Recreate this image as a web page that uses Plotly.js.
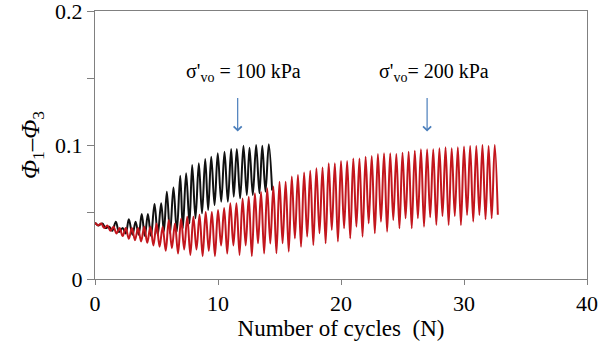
<!DOCTYPE html>
<html>
<head>
<meta charset="utf-8">
<script src="https://cdn.plot.ly/plotly-3.0.1.min.js"></script>
<style>html,body{margin:0;padding:0;background:#fff;}#chart{width:616px;height:347px;}</style>
</head>
<body>
<div id="chart"></div>
<script>
// sigma'vo = 100 kPa (black) : cycle position and Phi1-Phi3 at successive peaks/troughs
const blackX = [0, 0.3, 0.6, 0.85, 1.15, 1.4, 1.7, 1.95, 2.25, 2.5, 2.75, 3.05, 3.3, 3.55, 3.8, 4.05, 4.3, 4.55,
  4.84, 5.1, 5.38, 5.6, 5.84, 6.1, 6.38, 6.65, 6.93, 7.14, 7.41, 7.68, 7.9, 8.17, 8.44, 8.7, 8.96, 9.2,
  9.45, 9.72, 9.98, 10.26, 10.53, 10.8, 11.07, 11.28, 11.53, 11.8, 12.07, 12.34, 12.56, 12.83, 13.1, 13.37,
  13.6, 13.86, 14.13, 14.4];
const blackY = [0.042, 0.040, 0.0415, 0.038, 0.039, 0.036, 0.0428, 0.035, 0.038, 0.034, 0.0445, 0.033, 0.0428, 0.033, 0.0485, 0.032, 0.0485, 0.032,
  0.056, 0.0328, 0.0565, 0.0353, 0.0652, 0.034, 0.0682, 0.0353, 0.0771, 0.0378, 0.0789, 0.0415, 0.0851, 0.0453, 0.0863, 0.049, 0.0896, 0.0515,
  0.0913, 0.0552, 0.0938, 0.0577, 0.095, 0.0577, 0.097, 0.0614, 0.097, 0.0602, 0.0995, 0.0627, 0.098, 0.0627, 0.100, 0.064,
  0.0995, 0.0652, 0.1005, 0.066];

// sigma'vo = 200 kPa (red)
const redX = [0, 0.25, 0.5, 0.75, 1, 1.25, 1.5, 1.75, 2, 2.25, 2.5, 2.75, 3, 3.25, 3.5, 3.75, 4, 4.25, 4.5, 4.75,
  5, 5.25, 5.5, 5.75, 6, 6.25, 6.5, 6.75, 7, 7.25, 7.5, 7.75, 8, 8.25, 8.5, 8.75, 9, 9.25, 9.5, 9.75,
  10, 10.25, 10.5, 10.75, 11, 11.25, 11.5, 11.75, 12, 12.25, 12.5, 12.75, 13, 13.25, 13.5, 13.75, 14, 14.25, 14.5, 14.75,
  15, 15.25, 15.5, 15.75, 16, 16.25, 16.5, 16.75, 17, 17.25, 17.5, 17.75, 18, 18.25, 18.5, 18.75, 19, 19.25, 19.5, 19.75,
  20, 20.25, 20.5, 20.75, 21, 21.25, 21.5, 21.75, 22, 22.25, 22.5, 22.75, 23, 23.25, 23.5, 23.75, 24, 24.25, 24.5, 24.75,
  25, 25.25, 25.5, 25.75, 26, 26.25, 26.5, 26.75, 27, 27.25, 27.5, 27.75, 28, 28.25, 28.5, 28.75, 29, 29.25, 29.5, 29.75,
  30, 30.25, 30.5, 30.75, 31, 31.25, 31.5, 31.75, 32, 32.25, 32.5, 32.75];
const redY = [0.042, 0.040, 0.0415, 0.038, 0.040, 0.036, 0.039, 0.034, 0.038, 0.032, 0.038, 0.030, 0.038, 0.029, 0.038, 0.028, 0.039, 0.027, 0.039, 0.025,
  0.0415, 0.024, 0.039, 0.021, 0.044, 0.023, 0.0415, 0.019, 0.045, 0.022, 0.0465, 0.018, 0.0465, 0.022, 0.048, 0.017, 0.050, 0.021, 0.050, 0.017,
  0.0515, 0.025, 0.053, 0.019, 0.0565, 0.025, 0.0565, 0.018, 0.060, 0.025, 0.0614, 0.017, 0.064, 0.0266, 0.065, 0.019, 0.0677, 0.0265, 0.069, 0.0192,
  0.0726, 0.0266, 0.0726, 0.0204, 0.0764, 0.0303, 0.0776, 0.0241, 0.0794, 0.0316, 0.0808, 0.0254, 0.0826, 0.0341, 0.0833, 0.0266, 0.0863, 0.0366, 0.0863, 0.0279,
  0.088, 0.0378, 0.088, 0.0303, 0.090, 0.039, 0.090, 0.0316, 0.0913, 0.0415, 0.0918, 0.0341, 0.0933, 0.0428, 0.0938, 0.0353, 0.0938, 0.044, 0.0933, 0.0378,
  0.0943, 0.0453, 0.095, 0.0378, 0.0958, 0.0453, 0.0968, 0.039, 0.0968, 0.046, 0.0968, 0.0403, 0.0975, 0.047, 0.0983, 0.0403, 0.0975, 0.047, 0.0983, 0.0403,
  0.0988, 0.0478, 0.0993, 0.0428, 0.0993, 0.0478, 0.100, 0.0446, 0.0993, 0.0453, 0.100, 0.048];

const xTicks = [0, 10, 20, 30, 40];
const yTicks = [0, 0.1, 0.2];
const labels = ["σ'<sub>vo</sub> = 100 kPa", "σ'<sub>vo</sub>= 200 kPa"];
const labelX = [12.1, 27.6];
const arrowX = [11.6, 27.0];

const serif = 'Liberation Serif';

const traces = [
  {x: blackX, y: blackY, mode: 'lines', line: {color: '#111111', width: 2, shape: 'spline', smoothing: 1}, hoverinfo: 'skip'},
  {x: redX, y: redY, mode: 'lines', line: {color: '#c3161d', width: 2, shape: 'spline', smoothing: 1}, hoverinfo: 'skip'}
];

const annotations = [];
for (let i = 0; i < labels.length; i++) {
  annotations.push({x: labelX[i], y: 0.154, xref: 'x', yref: 'y', text: labels[i], showarrow: false,
    font: {family: serif, size: 20, color: '#000'}, xanchor: 'center', yanchor: 'middle'});
  annotations.push({x: arrowX[i], y: 0.110, xref: 'x', yref: 'y', ax: 0, ay: -42, text: ' ', showarrow: true,
    arrowhead: 4, arrowsize: 1.3, arrowwidth: 1.2, arrowcolor: '#4a7ebb'});
}

const layout = {
  width: 616, height: 347,
  margin: {l: 95, r: 29, t: 11, b: 68},
  paper_bgcolor: '#fff', plot_bgcolor: '#fff',
  showlegend: false,
  font: {family: serif, color: '#000'},
  xaxis: {
    range: [0, 40], tickvals: xTicks, ticks: 'outside', ticklen: 5, tickcolor: '#808080', tickwidth: 1,
    showline: true, linecolor: '#808080', linewidth: 1, mirror: true, showgrid: false, zeroline: false,
    ticklabeloverflow: 'allow',
    tickfont: {family: serif, size: 22, color: '#000'},
    title: {text: 'Number of cycles  (N)', font: {family: serif, size: 23, color: '#000'}, standoff: 4}
  },
  yaxis: {
    range: [0, 0.2], tickvals: yTicks, ticks: 'outside', ticklen: 7, tickcolor: '#808080', tickwidth: 1,
    minor: {dtick: 0.05, ticks: 'outside', ticklen: 7, tickcolor: '#808080', showgrid: false},
    showline: true, linecolor: '#808080', linewidth: 1, mirror: true, showgrid: false, zeroline: false,
    ticklabeloverflow: 'allow',
    tickfont: {family: serif, size: 22, color: '#000'},
    title: {text: '<i>Φ</i><sub>1</sub>–<i>Φ</i><sub>3</sub>', font: {family: serif, size: 25, color: '#000'}, standoff: 8}
  },
  annotations: annotations
};

Plotly.newPlot('chart', traces, layout, {staticPlot: true, displayModeBar: false});
</script>
</body>
</html>
